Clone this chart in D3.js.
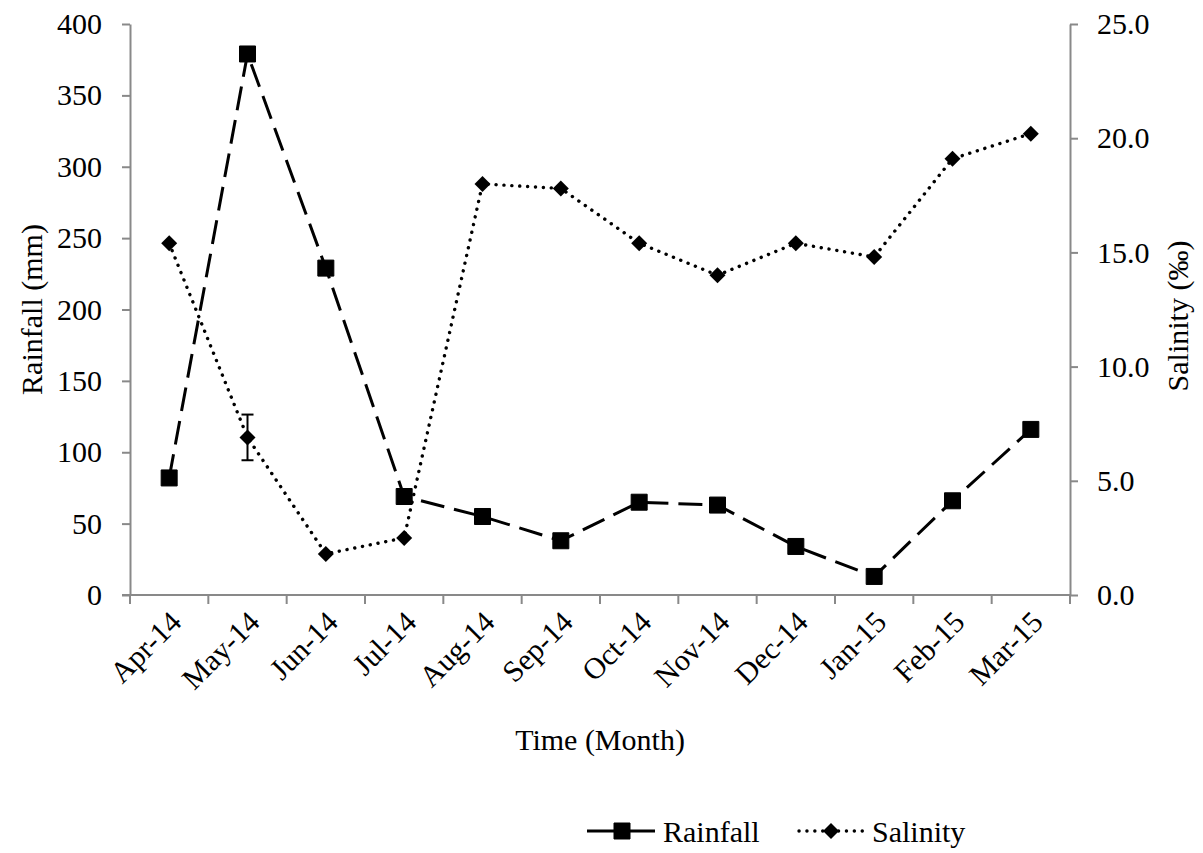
<!DOCTYPE html>
<html>
<head>
<meta charset="utf-8">
<script src="https://cdn.jsdelivr.net/npm/d3@7"></script>
<style>
  body { margin: 0; background: #fff; }
  text { font-family: "Liberation Serif", "Times New Roman", serif; fill: #000; }
</style>
</head>
<body>
<script>
const months = ["Apr-14", "May-14", "Jun-14", "Jul-14", "Aug-14", "Sep-14",
  "Oct-14", "Nov-14", "Dec-14", "Jan-15", "Feb-15", "Mar-15"];
const rainfall = [82, 379, 229, 69, 55, 38, 65, 63, 34, 13, 66, 116];
const salinity = [15.4, 6.9, 1.8, 2.5, 18.0, 17.8, 15.4, 14.0, 15.4, 14.8, 19.1, 20.2];
const salinityErr = [0, 1.0, 0, 0, 0, 0, 0, 0, 0, 0, 0, 0];
const rainTicks = [0, 50, 100, 150, 200, 250, 300, 350, 400];
const salTicks = [0, 5, 10, 15, 20, 25];

const w = 1203;
const h = 853;
const padL = 130, padR = 1070, padT = 24, padB = 595;
const fs = 30;

const svg = d3.select("body").append("svg")
  .attr("width", w)
  .attr("height", h);

const x = d3.scaleBand().domain(months).range([padL, padR]);
const yL = d3.scaleLinear().domain([0, 400]).range([padB, padT]);
const yR = d3.scaleLinear().domain([0, 25]).range([padB, padT]);
const cx = (d, i) => x(months[i]) + x.bandwidth() / 2;

// axes
const axisColor = "#898989";
const gL = svg.append("g")
  .attr("transform", `translate(${padL},0)`)
  .call(d3.axisLeft(yL).tickValues(rainTicks).tickSize(8).tickSizeOuter(0).tickPadding(20));
const gR = svg.append("g")
  .attr("transform", `translate(${padR},0)`)
  .call(d3.axisRight(yR).tickValues(salTicks).tickSize(8).tickSizeOuter(0).tickPadding(19).tickFormat(d3.format(".1f")));
[gL, gR].forEach(g => {
  g.selectAll("path, line").attr("stroke", axisColor).attr("stroke-width", 2);
  g.selectAll("text").attr("font-size", fs).attr("fill", "#000")
    .style("font-family", "'Liberation Serif', serif");
});

// x axis line and ticks at band edges
svg.append("line")
  .attr("x1", padL - 8).attr("x2", padR)
  .attr("y1", padB).attr("y2", padB)
  .attr("stroke", axisColor).attr("stroke-width", 2);
svg.append("g").selectAll("line")
  .data(d3.range(months.length + 1))
  .join("line")
  .attr("x1", i => padL + i * x.step())
  .attr("x2", i => padL + i * x.step())
  .attr("y1", padB).attr("y2", padB + 9)
  .attr("stroke", axisColor).attr("stroke-width", 2);

svg.append("g").selectAll("text")
  .data(months)
  .join("text")
  .attr("transform", d => `translate(${x(d) + x.bandwidth() / 2 + 9},${padB + 24}) rotate(-45)`)
  .attr("text-anchor", "end")
  .attr("dominant-baseline", "middle")
  .attr("font-size", fs)
  .text(d => d);

// titles
svg.append("text")
  .attr("transform", `translate(35,${(padT + padB) / 2}) rotate(-90)`)
  .attr("text-anchor", "middle")
  .attr("dominant-baseline", "middle")
  .attr("font-size", fs)
  .text("Rainfall (mm)");
svg.append("text")
  .attr("transform", `translate(1181,316) rotate(-90)`)
  .attr("text-anchor", "middle")
  .attr("dominant-baseline", "middle")
  .attr("font-size", fs)
  .text("Salinity (‰)");
svg.append("text")
  .attr("x", 600).attr("y", 750)
  .attr("text-anchor", "middle")
  .attr("font-size", fs)
  .text("Time (Month)");

// rainfall series
svg.append("path")
  .datum(rainfall)
  .attr("fill", "none")
  .attr("stroke", "#000")
  .attr("stroke-width", 3)
  .attr("stroke-dasharray", "24 10")
  .attr("d", d3.line().x(cx).y(d => yL(d)));

// salinity series
svg.append("path")
  .datum(salinity)
  .attr("fill", "none")
  .attr("stroke", "#000")
  .attr("stroke-width", 3.4)
  .attr("stroke-linecap", "round")
  .attr("stroke-dasharray", "0.1 7.8")
  .attr("d", d3.line().x(cx).y(d => yR(d)));

// error bars
svg.append("g").selectAll("g")
  .data(salinity.map((v, i) => ({ v, e: salinityErr[i], i })).filter(d => d.e > 0))
  .join("g")
  .each(function (d) {
    const g = d3.select(this);
    const xc = cx(null, d.i);
    g.append("line").attr("x1", xc).attr("x2", xc)
      .attr("y1", yR(d.v - d.e)).attr("y2", yR(d.v + d.e));
    g.append("line").attr("x1", xc - 6).attr("x2", xc + 6)
      .attr("y1", yR(d.v - d.e)).attr("y2", yR(d.v - d.e));
    g.append("line").attr("x1", xc - 6).attr("x2", xc + 6)
      .attr("y1", yR(d.v + d.e)).attr("y2", yR(d.v + d.e));
  })
  .selectAll("line").attr("stroke", "#000").attr("stroke-width", 2);

// Excel-like wide diamond
const wideDiamond = {
  draw(ctx, size) {
    const r = Math.sqrt(size) / 2;
    ctx.moveTo(0, -r);
    ctx.lineTo(r, 0);
    ctx.lineTo(0, r);
    ctx.lineTo(-r, 0);
    ctx.closePath();
  }
};
const square = d3.symbol().type(d3.symbolSquare).size(256);
const diamond = d3.symbol().type(wideDiamond).size(256);

svg.append("g").selectAll("path")
  .data(rainfall)
  .join("path")
  .attr("transform", (d, i) => `translate(${cx(d, i)},${yL(d)})`)
  .attr("d", square)
  .attr("stroke", "#000").attr("stroke-width", 1).attr("stroke-linejoin", "round");

svg.append("g").selectAll("path")
  .data(salinity)
  .join("path")
  .attr("transform", (d, i) => `translate(${cx(d, i)},${yR(d)})`)
  .attr("d", diamond);

// legend
const lg = svg.append("g").attr("transform", "translate(0,831)");
lg.append("line").attr("x1", 587).attr("x2", 655).attr("y1", 0).attr("y2", 0)
  .attr("stroke", "#000").attr("stroke-width", 3);
lg.append("path").attr("transform", "translate(622,0)").attr("d", square)
  .attr("stroke", "#000").attr("stroke-width", 1).attr("stroke-linejoin", "round");
lg.append("text").attr("x", 663).attr("y", 0).attr("dy", "0.35em")
  .attr("font-size", fs).text("Rainfall");
lg.append("line").attr("x1", 799).attr("x2", 863).attr("y1", 0).attr("y2", 0)
  .attr("stroke", "#000").attr("stroke-width", 3.4)
  .attr("stroke-linecap", "round").attr("stroke-dasharray", "0.1 7.8");
lg.append("path").attr("transform", "translate(831,0)").attr("d", diamond);
lg.append("text").attr("x", 872).attr("y", 0).attr("dy", "0.35em")
  .attr("font-size", fs).text("Salinity");
</script>
</body>
</html>
